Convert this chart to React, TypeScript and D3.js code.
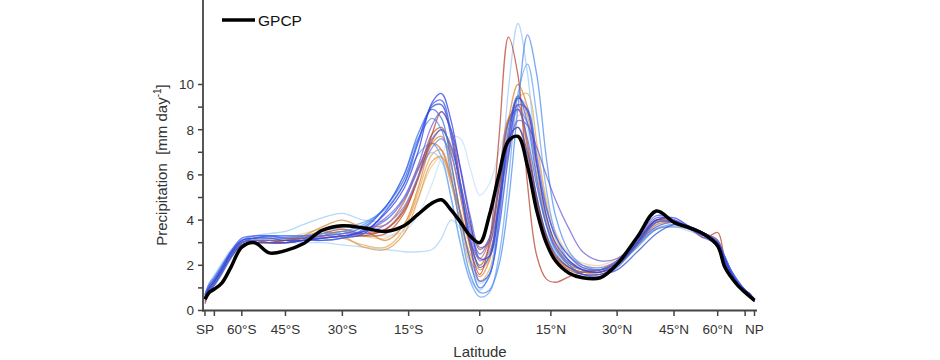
import React, { useEffect, useRef } from "react";
import * as d3 from "d3";

// latitude grid (degrees) used for every series
const LAT = [-90, -80, -75, -70, -65, -60, -55, -50, -45, -40,
  -35, -30, -25, -20, -16, -13, -10, -8, -6, -4,
  -2, 0, 2, 4, 6, 8, 10, 12, 14, 16,
  19, 22, 26, 30, 35, 40, 45, 50, 55, 60,
  63, 66, 70, 75, 80, 90];

// observations
const GPCP = [0.5, 0.8, 0.95, 1.2, 1.9, 2.8, 3.0, 2.55, 2.65, 2.95,
  3.55, 3.75, 3.65, 3.5, 3.75, 4.25, 4.75, 4.9, 4.45, 3.9,
  3.3, 3.0, 4.2, 6.0, 7.5, 7.7, 6.4, 4.4, 3.0, 2.2,
  1.65, 1.45, 1.45, 2.05, 3.25, 4.4, 3.9, 3.65, 3.35, 2.85,
  1.95, 1.5, 1.1, 0.8, 0.6, 0.45];

// model runs (blue family)
const B1 = [0.6, 1.0, 1.3, 1.8, 2.5, 3.1, 3.2, 3.2, 3.1, 3.1,
  3.2, 3.3, 3.5, 4.3, 5.4, 7.0, 9.2, 9.6, 8.4, 6.2,
  4.0, 2.3, 2.4, 4.5, 7.6, 9.4, 8.8, 6.5, 4.2, 3.0,
  2.2, 1.8, 1.7, 2.0, 3.0, 4.0, 4.1, 3.7, 3.4, 3.0,
  2.3, 1.7, 1.2, 0.9, 0.7, 0.4];
const B2 = [0.7, 1.1, 1.4, 1.9, 2.6, 3.2, 3.3, 3.3, 3.2, 3.2,
  3.1, 3.2, 3.6, 4.6, 5.8, 7.5, 9.1, 9.3, 7.9, 5.4,
  3.0, 1.3, 1.6, 3.6, 6.8, 9.1, 8.9, 6.8, 4.6, 3.3,
  2.4, 1.9, 1.8, 2.1, 3.1, 4.1, 4.0, 3.6, 3.3, 3.0,
  2.4, 1.8, 1.3, 0.9, 0.7, 0.5];
const B3 = [0.5, 0.9, 1.2, 1.7, 2.4, 3.0, 3.1, 3.1, 3.0, 3.1,
  3.3, 3.4, 3.5, 4.0, 4.9, 6.2, 7.6, 8.0, 7.2, 5.6,
  3.6, 2.5, 3.2, 5.6, 8.3, 8.9, 7.6, 5.5, 3.8, 2.8,
  2.1, 1.8, 1.7, 2.2, 3.2, 4.2, 4.0, 3.6, 3.2, 2.9,
  2.2, 1.6, 1.1, 0.8, 0.6, 0.4];
const B4 = [0.6, 1.0, 1.3, 1.8, 2.5, 3.0, 3.1, 3.0, 3.0, 3.1,
  3.2, 3.3, 3.5, 4.1, 5.0, 6.4, 8.2, 8.8, 8.0, 6.3,
  4.2, 2.8, 3.0, 4.8, 7.0, 8.4, 8.2, 7.2, 6.0, 4.9,
  3.6, 2.6, 2.2, 2.3, 3.0, 3.7, 3.9, 3.7, 3.4, 3.0,
  2.3, 1.7, 1.2, 0.9, 0.7, 0.4];
const B5 = [0.7, 1.2, 1.5, 2.0, 2.6, 3.1, 3.2, 3.3, 3.3, 3.3,
  3.4, 3.5, 3.8, 4.6, 6.0, 7.6, 8.5, 8.0, 6.0, 3.6,
  1.6, 0.8, 0.9, 2.0, 4.8, 9.0, 12.2, 10.4, 6.8, 4.2,
  2.6, 2.0, 1.8, 2.1, 2.9, 3.6, 3.8, 3.6, 3.3, 3.0,
  2.4, 1.8, 1.3, 0.9, 0.7, 0.5];
const B6 = [0.5, 0.9, 1.3, 1.8, 2.5, 3.0, 3.2, 3.2, 3.2, 3.3,
  3.5, 3.7, 3.9, 4.5, 5.6, 6.9, 7.4, 6.8, 5.0, 2.9,
  1.3, 0.6, 0.8, 2.4, 5.8, 9.6, 10.9, 8.6, 5.4, 3.4,
  2.2, 1.8, 1.7, 2.0, 2.8, 3.6, 3.7, 3.6, 3.3, 3.0,
  2.3, 1.7, 1.2, 0.9, 0.7, 0.5];
const B7 = [0.6, 1.1, 1.5, 2.0, 2.6, 3.1, 3.3, 3.4, 3.5, 3.8,
  4.1, 4.3, 4.0, 4.0, 5.0, 6.3, 7.0, 6.6, 5.0, 3.0,
  1.4, 0.9, 1.6, 4.6, 9.8, 12.7, 10.5, 6.4, 3.8, 2.6,
  2.0, 1.8, 1.8, 2.1, 2.9, 3.7, 3.9, 3.7, 3.4, 3.1,
  2.4, 1.8, 1.3, 0.9, 0.7, 0.5];
const B8 = [0.7, 1.2, 1.6, 2.1, 2.7, 3.1, 3.2, 3.2, 3.2, 3.3,
  3.4, 3.5, 3.4, 3.3, 3.5, 4.2, 5.6, 6.8, 7.7, 7.6,
  6.3, 5.1, 5.6, 7.0, 8.4, 9.3, 8.0, 5.6, 3.8, 2.8,
  2.1, 1.9, 1.9, 2.2, 3.0, 3.8, 3.8, 3.6, 3.3, 3.0,
  2.3, 1.7, 1.2, 0.9, 0.7, 0.5];
const B9 = [0.6, 1.0, 1.4, 1.9, 2.5, 3.0, 3.1, 3.1, 3.0, 3.0,
  3.0, 2.9, 2.8, 2.7, 2.6, 2.6, 2.7, 3.2, 4.0, 3.6,
  2.2, 1.2, 1.6, 3.8, 7.2, 9.4, 9.0, 6.6, 4.2, 2.9,
  2.1, 1.8, 1.8, 2.1, 2.9, 3.6, 3.7, 3.5, 3.3, 3.0,
  2.3, 1.7, 1.2, 0.9, 0.7, 0.5];
const B10 = [0.5, 0.9, 1.2, 1.7, 2.4, 3.0, 3.2, 3.3, 3.3, 3.3,
  3.3, 3.4, 3.7, 4.6, 6.0, 7.8, 8.9, 8.5, 6.6, 4.2,
  2.2, 1.0, 1.5, 4.0, 8.0, 9.5, 8.3, 5.8, 3.8, 2.7,
  2.0, 1.6, 1.5, 1.9, 2.9, 3.9, 3.9, 3.6, 3.3, 3.0,
  2.3, 1.7, 1.2, 0.9, 0.6, 0.4];
const B11 = [0.7, 1.1, 1.4, 1.9, 2.6, 3.1, 3.3, 3.3, 3.2, 3.2,
  3.2, 3.3, 3.4, 3.8, 4.6, 5.9, 7.2, 7.6, 6.9, 5.2,
  3.4, 2.2, 2.6, 4.6, 7.3, 8.9, 8.3, 6.4, 4.5, 3.3,
  2.4, 2.0, 1.9, 2.2, 3.1, 3.9, 4.0, 3.7, 3.4, 3.1,
  2.4, 1.8, 1.3, 0.9, 0.7, 0.5];
const B12 = [0.4, 0.8, 1.1, 1.6, 2.3, 2.9, 3.0, 3.0, 3.0, 3.1,
  3.1, 3.2, 3.4, 4.4, 5.6, 7.4, 9.0, 9.1, 7.7, 5.4,
  3.2, 1.9, 2.4, 4.8, 7.6, 8.1, 7.0, 5.0, 3.4, 2.5,
  1.9, 1.6, 1.6, 1.8, 2.6, 3.4, 3.8, 3.7, 3.4, 3.0,
  2.2, 1.6, 1.1, 0.8, 0.6, 0.4];

// model runs (orange / red family)
const R1 = [0.3, 0.8, 1.2, 1.7, 2.4, 3.0, 3.1, 3.1, 3.1, 3.2,
  3.4, 3.6, 3.4, 3.6, 4.4, 5.8, 7.8, 8.8, 8.0, 5.6,
  2.8, 1.6, 3.0, 7.6, 12.1, 10.4, 5.6, 2.4, 1.4, 1.25,
  1.5, 1.7, 1.8, 2.2, 3.1, 4.0, 3.9, 3.6, 3.2, 3.45,
  2.3, 1.7, 1.2, 0.9, 0.7, 0.4];
const R2 = [0.6, 1.0, 1.3, 1.8, 2.5, 3.0, 3.1, 3.0, 3.0, 3.1,
  3.3, 3.5, 3.3, 3.4, 4.3, 5.9, 7.8, 8.1, 7.0, 5.0,
  3.0, 2.0, 2.8, 5.4, 8.4, 9.1, 7.4, 5.0, 3.3, 2.4,
  1.9, 1.7, 1.7, 2.1, 3.1, 4.0, 3.9, 3.6, 3.3, 3.0,
  2.3, 1.7, 1.2, 0.9, 0.7, 0.5];
const R3 = [0.6, 1.0, 1.3, 1.8, 2.4, 2.9, 3.0, 3.0, 3.1, 3.3,
  3.7, 4.0, 3.6, 3.1, 3.8, 5.4, 7.4, 7.7, 6.4, 4.2,
  2.3, 1.5, 2.2, 4.9, 8.4, 10.0, 9.0, 6.4, 4.2, 2.9,
  2.1, 1.8, 1.8, 2.1, 2.9, 3.8, 3.9, 3.7, 3.4, 3.1,
  2.4, 1.8, 1.2, 0.9, 0.7, 0.5];
const R4 = [0.7, 1.1, 1.4, 1.9, 2.5, 3.0, 3.1, 3.1, 3.1, 3.2,
  3.3, 3.2, 2.9, 2.8, 3.6, 5.2, 6.9, 7.1, 5.9, 3.8,
  2.0, 1.3, 1.8, 4.0, 7.2, 9.4, 9.6, 7.4, 4.8, 3.2,
  2.2, 1.9, 1.8, 2.1, 2.8, 3.6, 3.7, 3.6, 3.3, 3.0,
  2.3, 1.7, 1.2, 0.9, 0.7, 0.5];
const R5 = [0.6, 1.0, 1.3, 1.8, 2.5, 3.0, 3.1, 3.1, 3.2, 3.4,
  3.6, 3.6, 3.3, 3.2, 3.8, 5.0, 6.4, 6.8, 6.1, 4.4,
  2.8, 2.0, 2.5, 4.2, 6.8, 8.6, 8.7, 7.0, 5.0, 3.5,
  2.5, 2.1, 2.0, 2.3, 3.0, 3.8, 3.9, 3.7, 3.4, 3.1,
  2.4, 1.8, 1.3, 0.9, 0.7, 0.5];
const R6 = [0.5, 0.9, 1.2, 1.7, 2.4, 2.9, 3.0, 3.0, 3.1, 3.2,
  3.5, 3.8, 3.7, 3.8, 4.8, 6.3, 7.4, 7.1, 5.8, 4.3,
  3.0, 2.3, 3.1, 5.8, 8.5, 8.9, 7.2, 4.9, 3.3, 2.4,
  1.9, 1.7, 1.7, 2.0, 2.9, 3.9, 3.9, 3.6, 3.3, 3.0,
  2.3, 1.7, 1.2, 0.9, 0.7, 0.5];
const R7 = [0.5, 0.9, 1.2, 1.7, 2.4, 2.9, 3.0, 3.0, 3.0, 3.1,
  3.2, 3.3, 3.3, 3.6, 4.5, 5.9, 7.5, 8.0, 7.3, 5.6,
  3.8, 2.7, 3.2, 5.4, 7.6, 8.1, 6.8, 4.8, 3.2, 2.3,
  1.8, 1.6, 1.6, 2.0, 3.0, 4.0, 4.0, 3.6, 3.3, 3.0,
  2.3, 1.7, 1.2, 0.9, 0.6, 0.4];
const R8 = [0.6, 1.0, 1.3, 1.8, 2.5, 3.0, 3.1, 3.0, 3.0, 3.2,
  3.5, 3.3, 2.8, 2.7, 3.4, 4.9, 6.6, 6.8, 5.6, 3.9,
  2.5, 1.8, 2.3, 4.6, 7.8, 9.5, 8.6, 6.0, 4.0, 2.8,
  2.0, 1.8, 1.8, 2.2, 3.0, 3.9, 3.9, 3.7, 3.4, 3.1,
  2.4, 1.8, 1.2, 0.9, 0.7, 0.5];

const MODELS = [R5, R4, B8, B9, B7, B6, R8, R3, R6, R2, R7, R1, B5, B11, B3, B4, B10, B12, B2, B1];
const MODEL_COLORS = ["#f3c990", "#eaa957", "#c6e0fa", "#a9d2f6", "#9ec9f6", "#6aa4f0", "#e09a4a", "#dc852f",
  "#cf6e3a", "#c65a2c", "#a9532d", "#b8412f", "#4a8cf0", "#7b7be0", "#5566e6", "#6f5fd6",
  "#3b6fe6", "#2f4fd0", "#3d5bf2", "#2a3ee6"];

const X_TICKS = [-90, -75, -60, -45, -30, -15, 0, 15, 30, 45, 60, 75, 90];
const X_LABELS = ["SP", "", "60°S", "45°S", "30°S", "15°S", "0", "15°N", "30°N", "45°N", "60°N", "", "NP"];
const Y_TICKS = [0, 1, 2, 3, 4, 5, 6, 7, 8, 9, 10];

export default function App() {
    const svgRef = useRef(null);

    useEffect(() => {
        const svg = d3.select(svgRef.current);
        svg.selectAll("*").remove();

        const font = "'Liberation Sans', Arial, Helvetica, sans-serif";
        const axisColor = "#444";

        const sx = d3.scaleLinear().domain([-1, 1]).range([205, 754.5]);
        const x = (lat) => sx(Math.sin(lat * Math.PI / 180));
        const y = d3.scaleLinear().domain([0, 10]).range([310.5, 84.5]);

        const line = d3.line()
            .x(d => x(d[0]))
            .y(d => y(d[1]))
            .curve(d3.curveCatmullRom.alpha(0.5));

        const g = svg.append("g");

        // model lines
        MODELS.forEach((vals, i) => {
            g.append("path")
                .attr("d", line(LAT.map((l, j) => [l, vals[j]])))
                .attr("fill", "none")
                .attr("stroke", MODEL_COLORS[i])
                .attr("stroke-width", 1.3)
                .attr("stroke-opacity", 0.75);
        });

        // observations
        g.append("path")
            .attr("d", line(LAT.map((l, j) => [l, GPCP[j]])))
            .attr("fill", "none")
            .attr("stroke", "#000")
            .attr("stroke-width", 3.5)
            .attr("stroke-linejoin", "round");

        // axes
        const ax = svg.append("g");
        ax.append("line").attr("x1", 203).attr("x2", 203).attr("y1", 0).attr("y2", 311.5)
            .attr("stroke", axisColor).attr("stroke-width", 1.8);
        ax.append("line").attr("x1", 202).attr("x2", 757).attr("y1", 310.5).attr("y2", 310.5)
            .attr("stroke", axisColor).attr("stroke-width", 1.8);

        Y_TICKS.forEach(v => {
            ax.append("line").attr("x1", 198).attr("x2", 203).attr("y1", y(v)).attr("y2", y(v))
                .attr("stroke", axisColor).attr("stroke-width", 1.5);
            if (v % 2 === 0) {
                ax.append("text").attr("x", 194).attr("y", y(v)).attr("dy", "0.36em")
                    .attr("text-anchor", "end").attr("font-family", font).attr("font-size", 13.5)
                    .attr("fill", "#333").text(v);
            }
        });

        X_TICKS.forEach((lat, i) => {
            ax.append("line").attr("x1", x(lat)).attr("x2", x(lat)).attr("y1", 310.5).attr("y2", 316)
                .attr("stroke", axisColor).attr("stroke-width", 1.5);
            if (X_LABELS[i]) {
                ax.append("text").attr("x", x(lat)).attr("y", 334)
                    .attr("text-anchor", "middle").attr("font-family", font).attr("font-size", 13.5)
                    .attr("fill", "#333").text(X_LABELS[i]);
            }
        });

        ax.append("text").attr("x", 480).attr("y", 357).attr("text-anchor", "middle")
            .attr("font-family", font).attr("font-size", 15).attr("fill", "#333").text("Latitude");

        const yl = ax.append("text").attr("transform", "translate(167,165) rotate(-90)")
            .attr("text-anchor", "middle").attr("font-family", font).attr("font-size", 15)
            .attr("fill", "#333").attr("xml:space", "preserve");
        yl.append("tspan").text("Precipitation  [mm day");
        yl.append("tspan").attr("dy", -6).attr("font-size", 10).text("-1");
        yl.append("tspan").attr("dy", 6).text("]");

        // legend
        const lg = svg.append("g");
        lg.append("line").attr("x1", 222).attr("x2", 255).attr("y1", 20).attr("y2", 20)
            .attr("stroke", "#000").attr("stroke-width", 3.5);
        lg.append("text").attr("x", 258).attr("y", 25.5).attr("font-family", font).attr("font-size", 15.5)
            .attr("fill", "#111").text("GPCP");
    }, []);

    return (
        <div style={{ position: "absolute", left: 0, top: 0 }}>
            <svg ref={svgRef} width={940} height={360} style={{ display: "block", background: "#fff" }} />
        </div>
    );
}
